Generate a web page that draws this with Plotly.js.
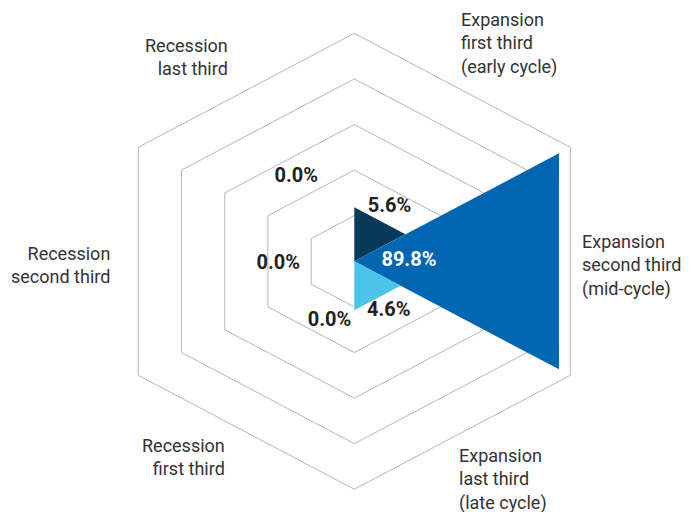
<!DOCTYPE html>
<html>
<head>
<meta charset="utf-8">
<script src="https://cdn.plot.ly/plotly-3.0.1.min.js"></script>
<style>html,body{margin:0;padding:0;background:#fff;}#chart{width:698px;height:512px;}</style>
</head>
<body>
<div id="chart"></div>
<script>
// ---- data ----
const categories = [
  'Recession<br>first third',
  'Recession<br>second third',
  'Recession<br>last third',
  'Expansion<br>first third<br>(early cycle)',
  'Expansion<br>second third<br>(mid-cycle)',
  'Expansion<br>last third<br>(late cycle)'
];
const values = [0.0, 0.0, 0.0, 5.6, 89.8, 4.6];      // share, %
const gridValues = [4, 16, 36, 64, 100];             // ring levels (square-root radial scale)
const radialMax = 100;

// ---- styles / layout config ----
const barColors = ['#06395a', '#06395a', '#06395a', '#06395a', '#0066b2', '#4cc4ea'];
const valueTextColors = ['#231f20', '#231f20', '#231f20', '#231f20', '#ffffff', '#231f20'];
// value-label anchor points in unit-radius space
const valueLabelXY = [[-0.099, -0.261], [-0.305, -0.011], [-0.233, 0.370], [0.141, 0.240], [0.219, 0.002], [0.138, -0.219]];
// category-label anchor points and sides
const catLabelXY = [[-0.509, -0.858], [-0.973, -0.018], [-0.498, 0.898], [0.421, 0.956], [0.905, -0.019], [0.413, -0.955]];
const catLabelSide = ['right', 'right', 'right', 'left', 'left', 'left'];

const rad = d => d * Math.PI / 180;
const sectorAngle = i => 240 - 60 * i;                // sector centre, deg CCW from east
const rOf = v => Math.sqrt(v / radialMax);

const traces = [];

// grid rings (hexagons, vertices at 30 + 60k deg)
gridValues.forEach(g => {
  const r = rOf(g), xs = [], ys = [];
  for (let k = 0; k <= 6; k++) {
    const a = rad(30 + 60 * k);
    xs.push(r * Math.cos(a)); ys.push(r * Math.sin(a));
  }
  traces.push({type: 'scatter', mode: 'lines', x: xs, y: ys,
    line: {color: '#b4b6bd', width: 1}, hoverinfo: 'skip', showlegend: false});
});

// sectors
values.forEach((v, i) => {
  if (v <= 0) return;
  const r = rOf(v), c = sectorAngle(i);
  const a0 = rad(c - 30), a1 = rad(c + 30);
  traces.push({type: 'scatter', mode: 'lines', fill: 'toself',
    x: [0, r * Math.cos(a0), r * Math.cos(a1), 0],
    y: [0, r * Math.sin(a0), r * Math.sin(a1), 0],
    fillcolor: barColors[i], line: {width: 0, color: barColors[i]},
    name: categories[i].replace(/<br>/g, ' '), showlegend: false, hoverinfo: 'name'});
});

// value labels
traces.push({type: 'scatter', mode: 'text',
  x: valueLabelXY.map(p => p[0]), y: valueLabelXY.map(p => p[1]),
  text: values.map(v => v.toFixed(1) + '%'),
  textposition: 'middle center',
  textfont: {family: 'Roboto, sans-serif', size: 20, weight: 700, color: valueTextColors},
  hoverinfo: 'skip', showlegend: false});

const annotations = categories.map((t, i) => ({
  text: t, x: catLabelXY[i][0], y: catLabelXY[i][1], xref: 'x', yref: 'y',
  xanchor: catLabelSide[i], yanchor: 'middle', align: catLabelSide[i],
  showarrow: false, font: {family: 'Roboto, sans-serif', size: 18, color: '#333333'}
}));

const layout = {
  width: 698, height: 512,
  margin: {l: 0, r: 0, t: 0, b: 0, pad: 0},
  paper_bgcolor: '#ffffff', plot_bgcolor: '#ffffff',
  xaxis: {range: [-1.4206, 1.3781], visible: false, showgrid: false, zeroline: false, fixedrange: true},
  yaxis: {range: [-1.0996, 1.1461], visible: false, showgrid: false, zeroline: false, fixedrange: true},
  annotations: annotations,
  showlegend: false
};

Plotly.newPlot('chart', traces, layout, {displayModeBar: false, staticPlot: true});
</script>
</body>
</html>
